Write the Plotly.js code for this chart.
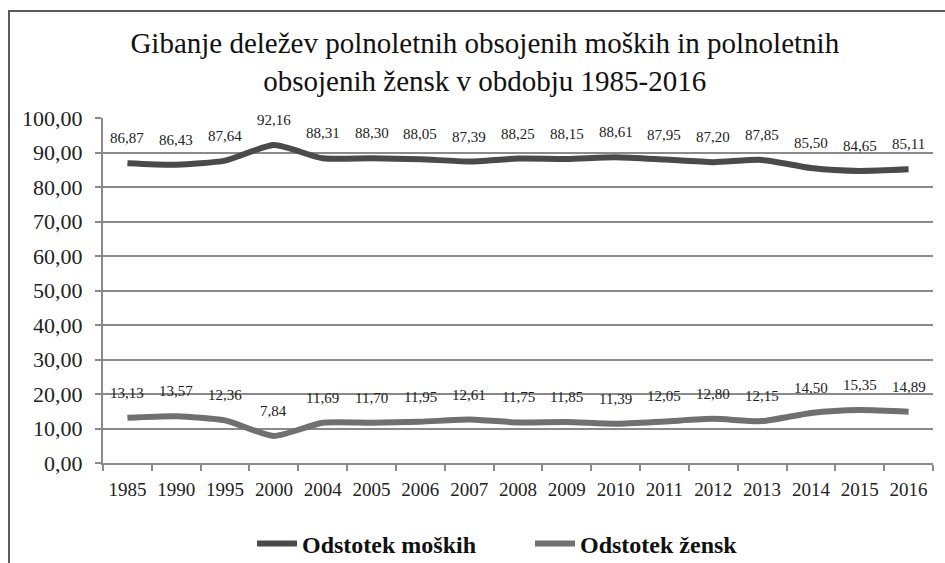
<!DOCTYPE html>
<html>
<head>
<meta charset="utf-8">
<script src="https://cdn.plot.ly/plotly-3.0.1.min.js"></script>
<style>
  html, body { margin: 0; padding: 0; background: #fff; }
  #wrap { position: relative; width: 945px; height: 563px; }
  #chart { position: absolute; left: 0; top: 0; width: 945px; height: 563px; }
  #frame { position: absolute; left: 8px; top: 10px; width: 940px; height: 560px;
           border-left: 2px solid #5a5a5a; border-top: 2px solid #5a5a5a; pointer-events: none; }
</style>
</head>
<body>
<div id="wrap">
  <div id="chart"></div>
  <div id="frame"></div>
</div>
<script>
const years = ['1985','1990','1995','2000','2004','2005','2006','2007','2008','2009','2010','2011','2012','2013','2014','2015','2016'];
const men = [86.87, 86.43, 87.64, 92.16, 88.31, 88.30, 88.05, 87.39, 88.25, 88.15, 88.61, 87.95, 87.20, 87.85, 85.50, 84.65, 85.11];
const women = [13.13, 13.57, 12.36, 7.84, 11.69, 11.70, 11.95, 12.61, 11.75, 11.85, 11.39, 12.05, 12.80, 12.15, 14.50, 15.35, 14.89];
const menName = 'Odstotek moških';
const womenName = 'Odstotek žensk';
const titleText = 'Gibanje deležev polnoletnih obsojenih moških in polnoletnih<br>obsojenih žensk v obdobju 1985-2016';

const serif = 'Liberation Serif';
const fmt = v => v.toFixed(2).replace('.', ',');

const traces = [
  { x: years, y: men, name: menName, type: 'scatter', mode: 'lines',
    line: { color: '#4a4a4a', width: 6, shape: 'spline', smoothing: 0.6 }, hoverinfo: 'skip' },
  { x: years, y: women, name: womenName, type: 'scatter', mode: 'lines',
    line: { color: '#707070', width: 6, shape: 'spline', smoothing: 0.6 }, hoverinfo: 'skip' }
];

const annotations = [];
[men, women].forEach(series => {
  series.forEach((v, i) => {
    annotations.push({ x: i, y: v, xref: 'x', yref: 'y', text: fmt(v), showarrow: false,
      yshift: 25, font: { family: serif, size: 15, color: '#222' } });
  });
});

const layout = {
  width: 945, height: 563,
  paper_bgcolor: '#fff', plot_bgcolor: '#fff',
  separators: ',.',
  margin: { l: 103, r: 12, t: 118, b: 100 },
  title: { text: titleText, font: { family: serif, size: 29, color: '#111' },
           x: 0.513, xref: 'container', xanchor: 'center',
           y: 1 - 53 / 563, yref: 'container', yanchor: 'middle' },
  xaxis: { type: 'category', range: [-0.5, years.length - 0.5], autorange: false,
           showgrid: false, showline: true, linecolor: '#8a8a8a', linewidth: 2,
           ticks: 'outside', tickson: 'boundaries', ticklen: 6, tickcolor: '#8a8a8a', tickwidth: 2,
           tickangle: 0, ticklabelstandoff: 8,
           tickfont: { family: serif, size: 19, color: '#222' }, zeroline: false },
  yaxis: { range: [0, 100], autorange: false, dtick: 10, tickformat: '.2f', showgrid: true, gridcolor: '#8a8a8a', gridwidth: 2,
           showline: true, linecolor: '#8a8a8a', linewidth: 2, ticks: 'outside', ticklen: 6,
           tickcolor: '#8a8a8a', tickwidth: 2, zeroline: false, ticklabelstandoff: 8,
           tickfont: { family: serif, size: 22, color: '#222' } },
  showlegend: true,
  legend: { orientation: 'h', xref: 'container', x: 252 / 945, xanchor: 'left',
            yref: 'container', y: 1 - 544 / 563, yanchor: 'middle',
            font: { family: serif, size: 24, color: '#111', weight: 'bold' }, bgcolor: 'rgba(0,0,0,0)',
            itemwidth: 40, entrywidth: 223 },
  annotations: annotations
};

Plotly.newPlot('chart', traces, layout, { staticPlot: true, displayModeBar: false });
</script>
</body>
</html>
